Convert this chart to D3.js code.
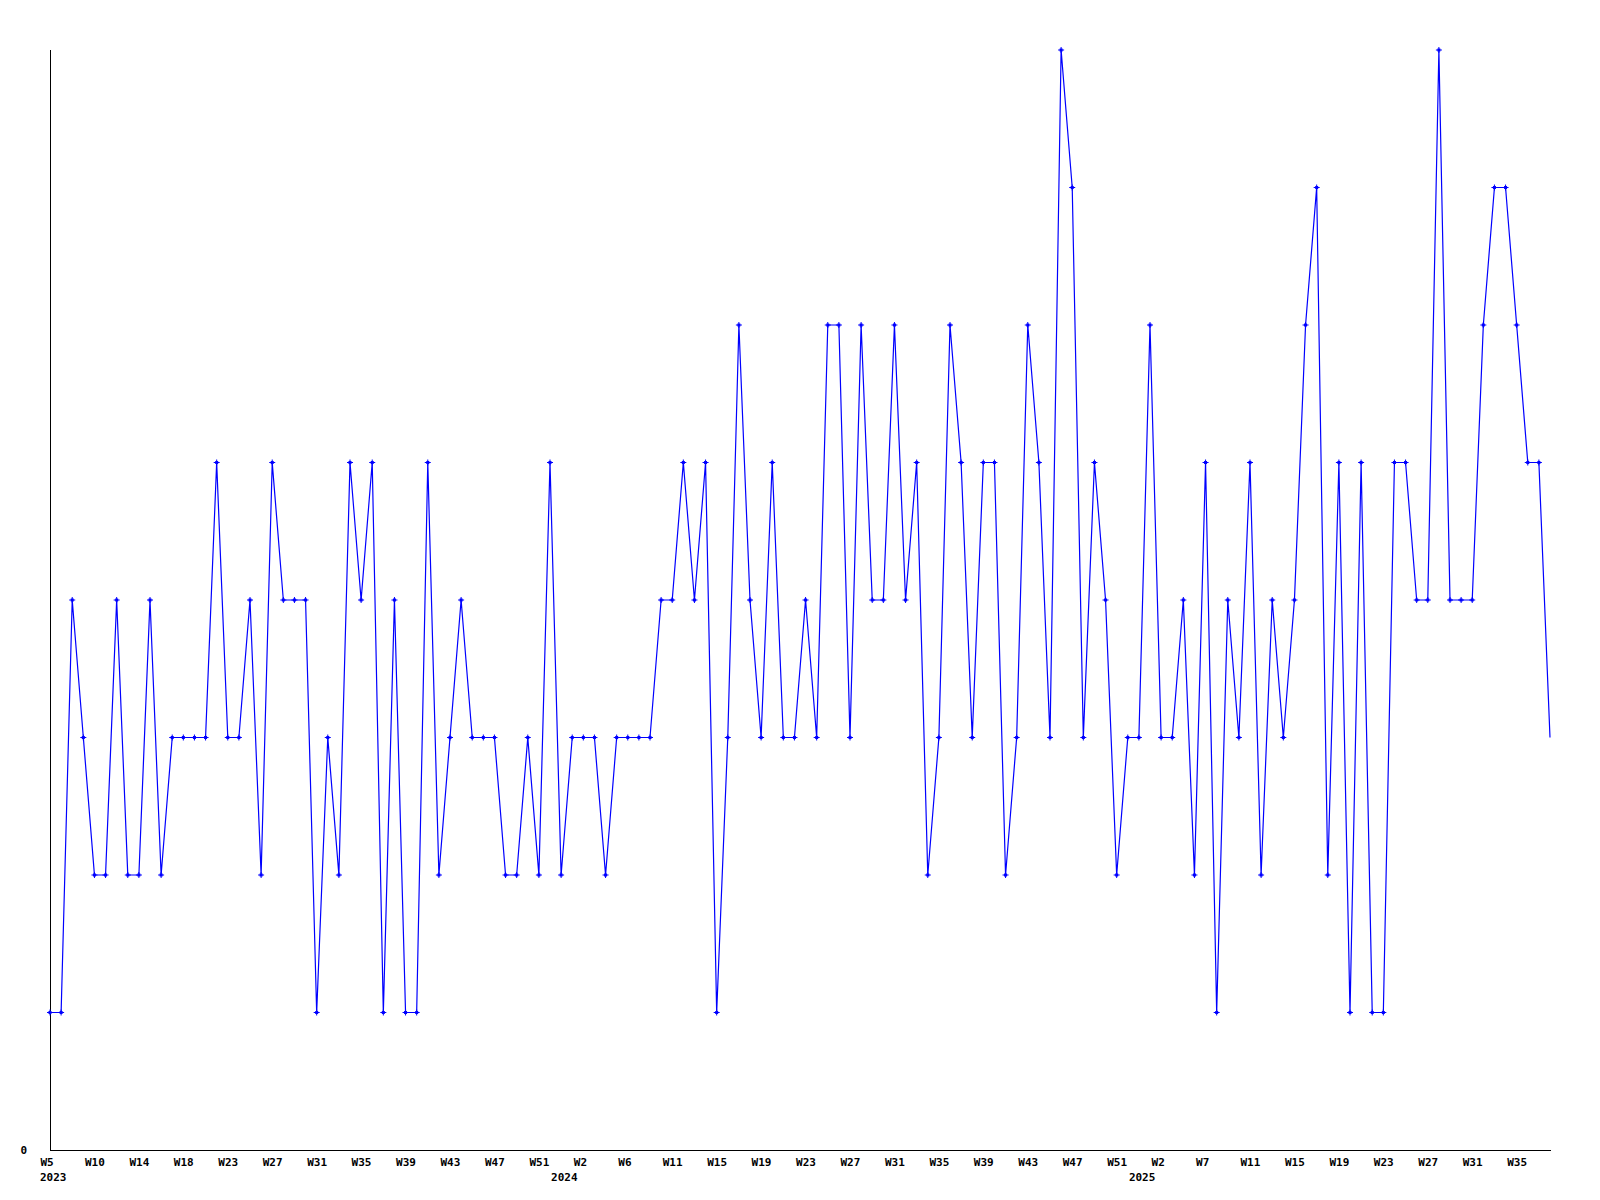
<!DOCTYPE html>
<html>
<head>
<meta charset="utf-8">
<script src="https://cdn.jsdelivr.net/npm/d3@7"></script>
<style>
  html, body { margin: 0; padding: 0; background: #fff; }
  svg { display: block; }
  text { font-family: "DejaVu Sans Mono", "Liberation Mono", monospace; font-weight: bold; font-size: 11px; fill: #000; }
</style>
</head>
<body>
<svg id="chart" width="1600" height="1200"></svg>
<script>
// ---- data ----
const values = [
  1,1,4,3,2,2,4,2,2,4,
  2,3,3,3,3,5,3,3,4,2,
  5,4,4,4,1,3,2,5,4,5,
  1,4,1,1,5,2,3,4,3,3,
  3,2,2,3,2,5,2,3,3,3,
  2,3,3,3,3,4,4,5,4,5,
  1,3,6,4,3,5,3,3,4,3,
  6,6,3,6,4,4,6,4,5,2,
  3,6,5,3,5,5,2,3,6,5,
  3,8,7,3,5,4,2,3,3,6,
  3,3,4,2,5,1,4,3,5,2,
  4,3,4,6,7,2,5,1,5,1,
  1,5,5,4,4,8,4,4,4,6,
  7,7,6,5,5,3
];
const weekTickLabels = [
  "W5","W10","W14","W18","W23","W27","W31","W35","W39","W43","W47","W51",
  "W2","W6","W11","W15","W19","W23","W27","W31","W35","W39","W43","W47","W51",
  "W2","W7","W11","W15","W19","W23","W27","W31","W35"
];
const yearLabels = ["2023","2024","2025"];
const yearStartIndex = [0, 46, 98];
const yTickValues = [0];

// ---- layout ----
(function () {
const svg = d3.select("#chart");
const mLeft = 50, mRight = 1550, mTop = 50, mBottom = 1150;

const x = d3.scaleLinear().domain([0, values.length - 1]).range([mLeft, mRight]);
const y = d3.scaleLinear().domain([0, 8]).range([mBottom, mTop]);

// axes lines
svg.append("line").attr("x1", mLeft + 0.5).attr("x2", mLeft + 0.5)
  .attr("y1", mTop).attr("y2", mBottom + 0.5)
  .attr("stroke", "#000").attr("stroke-width", 1).attr("shape-rendering", "crispEdges");
svg.append("line").attr("x1", mLeft).attr("x2", mRight + 1)
  .attr("y1", mBottom + 0.5).attr("y2", mBottom + 0.5)
  .attr("stroke", "#000").attr("stroke-width", 1).attr("shape-rendering", "crispEdges");

// y axis label(s)
const yAxis = d3.axisLeft(y).tickValues(yTickValues).tickSize(0).tickPadding(23).tickFormat(d3.format("d"));
const gy = svg.append("g").attr("transform", `translate(${mLeft},0)`).call(yAxis);
gy.select(".domain").remove();
gy.attr("font-family", null).attr("font-size", null);

// x axis week labels
const tickIdx = weekTickLabels.map((_, k) => k * 4);
const xAxis = d3.axisBottom(x).tickValues(tickIdx).tickSize(0).tickPadding(0)
  .tickFormat((d, i) => weekTickLabels[i]);
const gx = svg.append("g").attr("transform", `translate(0,${mBottom})`).call(xAxis);
gx.select(".domain").remove();
gx.attr("font-family", null).attr("font-size", null);
gx.selectAll("text")
  .attr("text-anchor", "start")
  .attr("x", -10)
  .attr("y", 16)
  .attr("dy", null);

// year labels
svg.append("g").selectAll("text").data(yearLabels).join("text")
  .attr("x", (d, i) => x(yearStartIndex[i]) - 10)
  .attr("y", mBottom + 31)
  .attr("text-anchor", "start")
  .text(d => d);

// line
const line = d3.line().x((d, i) => x(i)).y(d => y(d));
svg.append("path").datum(values)
  .attr("d", line)
  .attr("fill", "none")
  .attr("stroke", "#0000ff")
  .attr("stroke-width", 1.2);

// markers (all but last)
const markers = svg.append("g").selectAll("g").data(values.slice(0, values.length - 1)).join("g")
  .attr("transform", (d, i) => `translate(${x(i)},${y(d)})`);
markers.append("path")
  .attr("d", "M-3,0H3M0,-3V3")
  .attr("stroke", "#0000ff").attr("stroke-width", 1);
markers.append("rect")
  .attr("x", -1.5).attr("y", -1.5).attr("width", 3).attr("height", 3)
  .attr("fill", "#0000ff");
})();
</script>
</body>
</html>
